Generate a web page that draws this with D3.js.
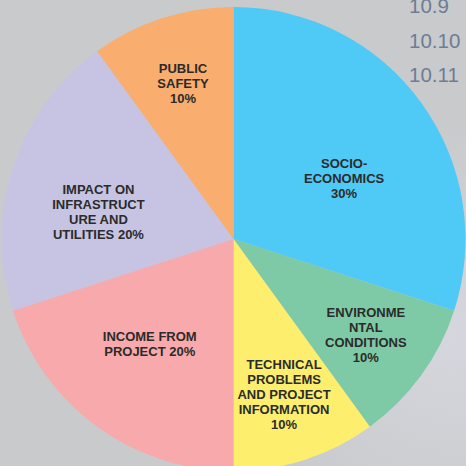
<!DOCTYPE html>
<html>
<head>
<meta charset="utf-8">
<script src="https://cdn.jsdelivr.net/npm/d3@7/dist/d3.min.js"></script>
<style>
  html, body { margin: 0; padding: 0; background: #c9cacc; }
  svg { display: block; }
</style>
</head>
<body>
<svg id="chart" width="466" height="466"></svg>
<script>
// ---- data ----
const categories = [
  "SOCIO-ECONOMICS",
  "ENVIRONMENTAL CONDITIONS",
  "TECHNICAL PROBLEMS AND PROJECT INFORMATION",
  "INCOME FROM PROJECT",
  "IMPACT ON INFRASTRUCTURE AND UTILITIES",
  "PUBLIC SAFETY"
];
const values = [30, 10, 10, 20, 20, 10];
const labelLines = [
  ["SOCIO-", "ECONOMICS", "30%"],
  ["ENVIRONME", "NTAL", "CONDITIONS", "10%"],
  ["TECHNICAL", "PROBLEMS", "AND PROJECT", "INFORMATION", "10%"],
  ["INCOME FROM", "PROJECT 20%"],
  ["IMPACT ON", "INFRASTRUCT", "URE AND", "UTILITIES 20%"],
  ["PUBLIC", "SAFETY", "10%"]
];
const colors = ["#4fc9f6", "#7ec9a6", "#fdee6e", "#f8a9ab", "#c6c4e2", "#f9ad6f"];
const sideLabels = ["10.9", "10.10", "10.11"];

// ---- layout (not data) ----
const W = 466, H = 466;
const cx = 233.5, cy = 239, R = 232;
// small hand-placement offsets of the slice labels, as in the original
const labelNudge = [[13, 10], [0, 0], [0, 0], [-4, -5], [-6, 15], [0, 0]];

const svg = d3.select("#chart");

// background with a faint lighter patch on the right
const defs = svg.append("defs");
const rg = defs.append("radialGradient").attr("id", "bgpatch")
  .attr("cx", 0.97).attr("cy", 0.72).attr("r", 0.45);
rg.append("stop").attr("offset", "0%").attr("stop-color", "#d6d7de");
rg.append("stop").attr("offset", "100%").attr("stop-color", "#c9cacc");
svg.append("rect").attr("width", W).attr("height", H).attr("fill", "url(#bgpatch)");

// side labels
const sideY = d3.scalePoint().domain(sideLabels).range([13, 82]);
svg.append("g").selectAll("text").data(sideLabels).join("text")
  .attr("x", 409)
  .attr("y", d => sideY(d))
  .attr("font-family", "Liberation Sans, Arial, sans-serif")
  .attr("font-size", 20.5)
  .attr("fill", "#6c7d96")
  .text(d => d);

const data = categories.map((c, i) => ({ name: c, value: values[i], lines: labelLines[i], color: colors[i], nudge: labelNudge[i] }));

const pie = d3.pie().value(d => d.value).sort(null);
const arcs = pie(data);
const arc = d3.arc().innerRadius(0).outerRadius(R);

const g = svg.append("g").attr("transform", `translate(${cx},${cy})`);
g.selectAll("path").data(arcs).join("path")
  .attr("d", arc)
  .attr("fill", d => d.data.color);

function labelRadius(v) {
  if (v >= 30) return 0.52 * R;
  if (v >= 20) return 0.585 * R;
  return 0.705 * R;
}

const lh = 15;
const labels = g.selectAll("g.lbl").data(arcs).join("g").attr("class", "lbl")
  .attr("transform", d => {
    const r = labelRadius(d.data.value);
    const la = d3.arc().innerRadius(r).outerRadius(r);
    const [x, y] = la.centroid(d);
    return `translate(${x + d.data.nudge[0]},${y + d.data.nudge[1]})`;
  });
labels.each(function(d) {
  const n = d.data.lines.length;
  const t = d3.select(this).append("text")
    .attr("text-anchor", "middle")
    .attr("font-family", "Liberation Sans, Arial, sans-serif")
    .attr("font-weight", "bold")
    .attr("font-size", 13)
    .attr("fill", "#2b2b2b");
  d.data.lines.forEach((ln, i) => {
    t.append("tspan")
      .attr("x", 0)
      .attr("y", (i - (n - 1) / 2) * lh + 4.6)
      .text(ln);
  });
});
</script>
</body>
</html>
